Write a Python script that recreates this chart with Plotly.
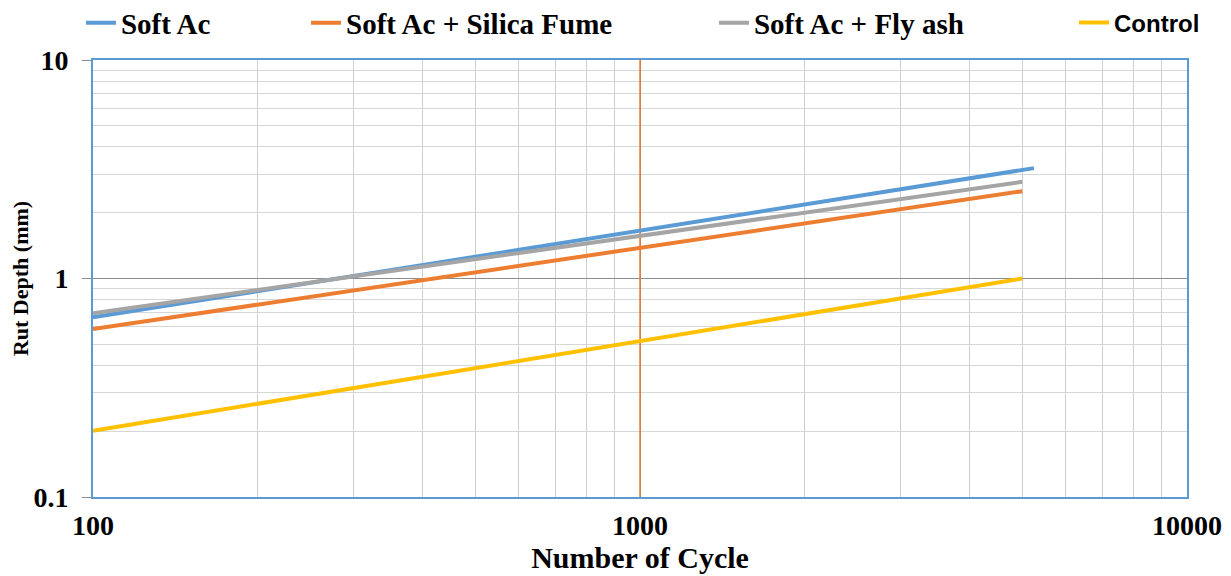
import plotly.graph_objects as go

# ---- data ----
cycles = [100, 200, 500, 1000, 2000, 5000]
cycles_soft = [100, 200, 500, 1000, 2000, 5250]
soft_ac = [0.664, 0.875, 1.26, 1.655, 2.18, 3.20]
soft_silica = [0.587, 0.76, 1.066, 1.38, 1.79, 2.51]
soft_flyash = [0.693, 0.886, 1.225, 1.566, 2.00, 2.77]
control = [0.201, 0.267, 0.387, 0.516, 0.684, 1.00]
ref_cycle = [1000, 1000]
ref_depth = [0.1, 10]

x_major = [100, 1000, 10000]
x_major_text = ["100", "1000", "10000"]
y_major = [0.1, 1, 10]
y_major_text = ["0.1", "1", "10"]
x_minor = [m * d for d in (100, 1000) for m in range(2, 10)]
y_minor = [m * d for d in (0.1, 1) for m in range(2, 10)]

series = [
    ("Soft Ac", cycles_soft, soft_ac, "#5B9BD5", "legend"),
    ("Soft Ac + Silica Fume", cycles, soft_silica, "#ED7D31", "legend2"),
    ("Soft Ac + Fly ash", cycles, soft_flyash, "#A5A5A5", "legend3"),
    ("Control", cycles, control, "#FFC000", "legend4"),
]

fig = go.Figure()
# vertical reference line at 1000 cycles
fig.add_trace(go.Scatter(x=ref_cycle, y=ref_depth, mode="lines", showlegend=False,
                         hoverinfo="skip", line=dict(color="#ED7D31", width=1.5)))
for name, xs, ys, color, leg in series:
    fig.add_trace(go.Scatter(x=xs, y=ys, mode="lines", name=name,
                             line=dict(color=color, width=4), legend=leg))

legend_x = {"legend": -0.011, "legend2": 0.1947, "legend3": 0.5676, "legend4": 0.8967}
legend_font = {"legend": ("Liberation Serif", 29), "legend2": ("Liberation Serif", 29),
               "legend3": ("Liberation Serif", 29), "legend4": ("Liberation Sans", 24)}
legends = {}
for k, xv in legend_x.items():
    fam, size = legend_font[k]
    legends[k] = dict(x=xv, xanchor="left", y=1.085, yanchor="middle",
                      orientation="h", bgcolor="rgba(0,0,0,0)",
                      font=dict(family=fam, size=size, color="#000000", weight="bold"))

# the page body has an 8px margin, so the figure is shifted by 8px
fig.update_layout(
    width=1223, height=568,
    margin=dict(l=85, r=44, t=52, b=79, autoexpand=False),
    paper_bgcolor="white", plot_bgcolor="white",
    showlegend=True,
    **legends,
)

fig.update_xaxes(
    type="log", range=[2, 4],
    tickmode="array", tickvals=x_major, ticktext=x_major_text,
    tickfont=dict(family="Liberation Serif", size=28, color="#000000", weight="bold"),
    ticks="", ticklabelstandoff=2,
    showgrid=True, gridcolor="#8C8C8C", gridwidth=1,
    minor=dict(tickmode="array", tickvals=x_minor, showgrid=True,
               gridcolor="#CFCFCF", gridwidth=1.3, ticks=""),
    showline=True, linecolor="#5B9BD5", linewidth=2, mirror=True,
    zeroline=False,
    title=dict(text="Number of Cycle", standoff=0,
               font=dict(family="Liberation Serif", size=30, color="#000000", weight="bold")),
)
fig.update_yaxes(
    type="log", range=[-1, 1],
    tickmode="array", tickvals=y_major, ticktext=y_major_text,
    tickfont=dict(family="Liberation Serif", size=28, color="#000000", weight="bold"),
    ticks="outside", ticklen=9, tickcolor="#8C8C8C", tickwidth=1,
    ticklabelstandoff=8,
    showgrid=True, gridcolor="#8C8C8C", gridwidth=1,
    minor=dict(tickmode="array", tickvals=y_minor, showgrid=True,
               gridcolor="#D6D6D6", gridwidth=1, ticks=""),
    showline=True, linecolor="#5B9BD5", linewidth=2, mirror=True,
    zeroline=False,
    title=dict(text="Rut Depth (mm)", standoff=6,
               font=dict(family="Liberation Serif", size=22, color="#000000", weight="bold")),
)

fig.write_html("out.html")
